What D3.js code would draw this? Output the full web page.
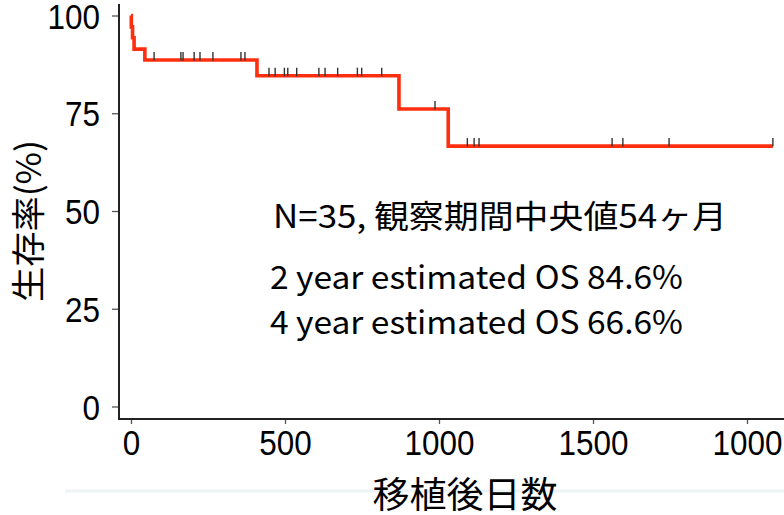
<!DOCTYPE html>
<html>
<head>
<meta charset="utf-8">
<script src="https://cdn.jsdelivr.net/npm/d3@7"></script>
<style>
  body { margin: 0; background: #fff; }
  svg { display: block; }
</style>
</head>
<body>
<div id="chart-area"></div>
<script>
/*
*    km curve
*/

var eventDays = [0, 1, 5, 10, 45, 409, 870, 1030];
var survival = [100, 97.1, 94.3, 91.4, 88.6, 84.6, 76.1, 66.6];
var lastDay = 2084;
var censorDays = [75, 162, 169, 205, 224, 266, 357, 370,
    448, 468, 498, 509, 538, 610, 630, 671, 735, 749, 814,
    987,
    1092, 1114, 1130, 1562, 1597, 1747, 2084];

var xTicks = [0, 500, 1000, 1500, 2000];
var xTickLabels = ["0", "500", "1000", "1500", "1000"];
var yTicks = [0, 25, 50, 75, 100];

var notes = ["N=35, 観察期間中央値54ヶ月", "2 year estimated OS 84.6%", "4 year estimated OS 66.6%"];

var w = 784;
var h = 515;
var plot = {left: 119, top: 4, right: 784, bottom: 419};

var svg = d3.select("#chart-area").append("svg")
    .attr("width", w)
    .attr("height", h);

svg.append("rect")
    .attr("width", w)
    .attr("height", h)
    .attr("fill", "#fff");

var x = d3.scaleLinear()
    .domain([0, 2000])
    .range([131, 747]);

var y = d3.scaleLinear()
    .domain([0, 100])
    .range([406.5, 15.5]);

// faint band behind x title
svg.append("line")
    .attr("x1", 65).attr("x2", w)
    .attr("y1", 491).attr("y2", 491)
    .attr("stroke", "#eef3f3")
    .attr("stroke-width", 3);

var charW = 17.5;

var left = d3.axisLeft(y)
    .tickValues(yTicks)
    .tickSize(7)
    .tickPadding(12);

var y_group = svg.append("g")
    .attr("transform", "translate(" + plot.left + ",0)")
    .call(left);

var bottom = d3.axisBottom(x)
    .tickValues(xTicks)
    .tickSize(5)
    .tickPadding(6)
    .tickFormat((d, i) => { return xTickLabels[i]; });

var x_group = svg.append("g")
    .attr("transform", "translate(0," + plot.bottom + ")")
    .call(bottom);

[y_group, x_group].forEach((g) => {
    g.select(".domain").remove();
    g.selectAll(".tick line")
        .attr("stroke", "#555")
        .attr("stroke-width", 1.3);
    g.selectAll(".tick text")
        .attr("font-family", "'Liberation Sans', Arial, sans-serif")
        .attr("font-size", "35px")
        .attr("fill", "#000")
        .attr("lengthAdjust", "spacingAndGlyphs")
        .attr("textLength", function() { return this.textContent.length * charW; });
});

y_group.selectAll(".tick text").attr("dy", "0.36em");

// axis lines
svg.append("line")
    .attr("x1", plot.left).attr("x2", plot.left)
    .attr("y1", plot.top).attr("y2", plot.bottom)
    .attr("stroke", "#222")
    .attr("stroke-width", 2);

svg.append("line")
    .attr("x1", plot.left - 1).attr("x2", plot.right)
    .attr("y1", plot.bottom).attr("y2", plot.bottom)
    .attr("stroke", "#222")
    .attr("stroke-width", 2);

// survival step line
var pts = eventDays.map((d, i) => { return [d, survival[i]]; });
pts.push([lastDay, survival[survival.length - 1]]);

var line = d3.line()
    .x((d) => { return x(d[0]); })
    .y((d) => { return y(d[1]); })
    .curve(d3.curveStepAfter);

svg.append("path")
    .datum(pts)
    .attr("d", line)
    .attr("fill", "none")
    .attr("stroke", "#ff2e0e")
    .attr("stroke-width", 3.6);

// censor marks
function survAt(t) {
    var i = d3.bisectRight(eventDays, t) - 1;
    return survival[Math.max(i, 0)];
}

svg.selectAll(".censor")
    .data(censorDays)
    .enter().append("line")
    .attr("class", "censor")
    .attr("x1", (d) => { return x(d); })
    .attr("x2", (d) => { return x(d); })
    .attr("y1", (d) => { return y(survAt(d)) - 8; })
    .attr("y2", (d) => { return y(survAt(d)) + 0.5; })
    .attr("stroke", "#333")
    .attr("stroke-width", 1.4);

// annotations
var notePos = [[273, 228, 454], [270, 289, 413], [270, 334, 413]];
svg.selectAll(".note")
    .data(notes)
    .enter().append("text")
    .attr("class", "note")
    .attr("x", (d, i) => { return notePos[i][0]; })
    .attr("y", (d, i) => { return notePos[i][1]; })
    .attr("textLength", (d, i) => { return notePos[i][2]; })
    .attr("lengthAdjust", "spacingAndGlyphs")
    .attr("font-family", "'Noto Sans CJK JP', 'Noto Sans', sans-serif")
    .attr("font-size", "32px")
    .attr("fill", "#000")
    .text((d) => { return d; });

// axis titles
svg.append("text")
    .attr("transform", "translate(41, 221) rotate(-90)")
    .attr("text-anchor", "middle")
    .attr("textLength", 162)
    .attr("lengthAdjust", "spacingAndGlyphs")
    .attr("font-family", "'Noto Sans CJK JP', sans-serif")
    .attr("font-size", "34px")
    .attr("fill", "#000")
    .text("生存率(%)");

svg.append("text")
    .attr("x", 465)
    .attr("y", 508)
    .attr("text-anchor", "middle")
    .attr("textLength", 185)
    .attr("lengthAdjust", "spacingAndGlyphs")
    .attr("font-family", "'Noto Sans CJK JP', sans-serif")
    .attr("font-size", "36px")
    .attr("fill", "#000")
    .text("移植後日数");
</script>
</body>
</html>
